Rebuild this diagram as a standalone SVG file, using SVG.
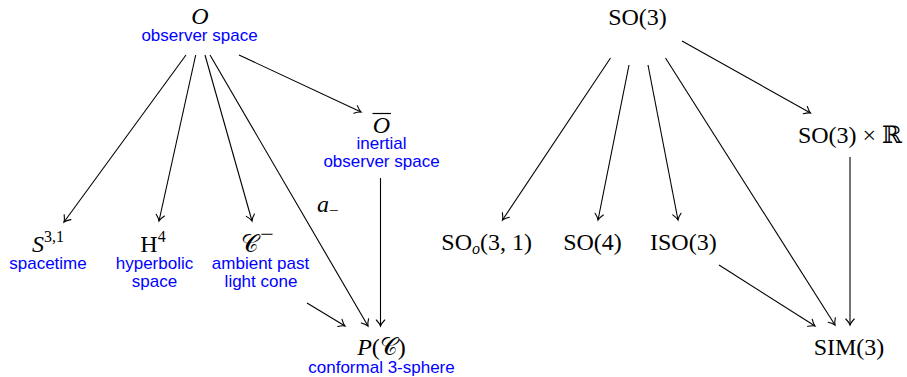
<svg xmlns="http://www.w3.org/2000/svg" width="907" height="377" viewBox="0 0 907 377">
<style>
.m{font-family:"Liberation Serif","DejaVu Serif",serif;font-size:24px;fill:#000;text-anchor:middle}
.i{font-style:italic}
.l{font-family:"Liberation Sans","DejaVu Sans",sans-serif;font-size:17px;fill:#0000ff;text-anchor:middle}
.e{fill:none;stroke:#000;stroke-width:1.1;marker-end:url(#ah)}
</style>
<defs>
<marker id="ah" markerUnits="userSpaceOnUse" orient="auto" refX="0" refY="0" markerWidth="12" markerHeight="12" overflow="visible">
<path d="M-6,-4.2 C-3.5,-1.8 -1.2,-0.4 0,0 C-1.2,0.4 -3.5,1.8 -6,4.2" fill="none" stroke="#000" stroke-width="1.1" stroke-linecap="round"/>
</marker>
</defs>
<g id="edges">
<path class="e" d="M186,55 L64,222"/>
<path class="e" d="M195.7,55 L159,221"/>
<path class="e" d="M205,55 L252,221"/>
<path class="e" d="M210,55 L368,326"/>
<path class="e" d="M239,55 L361,112"/>
<path class="e" d="M380.5,178 L380.5,326"/>
<path class="e" d="M307,303 L345,326"/>
<path class="e" d="M610.5,58 L502.5,220"/>
<path class="e" d="M629,65 L598,220"/>
<path class="e" d="M648,65 L678,220"/>
<path class="e" d="M665.5,58 L835,325"/>
<path class="e" d="M682,41 L810.5,113"/>
<path class="e" d="M719,265 L815,326"/>
<path class="e" d="M850,157 L850,325"/>
<text class="m i" x="317" y="212" style="text-anchor:start">a<tspan dy="4" font-size="17" font-style="normal">−</tspan></text>
</g>
<g id="O">
<text class="m i" x="200" y="24">O</text>
<text class="l" x="199.5" y="41">observer space</text>
</g>
<g id="Obar">
<text class="m i" x="381.5" y="133">O</text>
<line x1="372.5" y1="113.5" x2="391" y2="113.5" stroke="#000" stroke-width="1.2"/>
<text class="l" x="381.5" y="149">inertial</text>
<text class="l" x="381.5" y="167">observer space</text>
</g>
<g id="S31">
<text class="m" x="48" y="252"><tspan font-style="italic">S</tspan><tspan dy="-10" font-size="16">3,1</tspan></text>
<text class="l" x="48" y="268.5">spacetime</text>
</g>
<g id="H4">
<text class="m" x="153" y="252">H<tspan dy="-10" font-size="16">4</tspan></text>
<text class="l" x="154.5" y="268.5">hyperbolic</text>
<text class="l" x="154.5" y="287">space</text>
</g>
<g id="Cminus">
<text class="m" x="250" y="252">𝒞</text>
<text class="m" x="267" y="242" font-size="16">−</text>
<text class="l" x="260.5" y="268.5">ambient past</text>
<text class="l" x="261" y="287">light cone</text>
</g>
<g id="PC">
<text class="m" x="381.5" y="355"><tspan font-style="italic">P</tspan>(𝒞)</text>
<text class="l" x="381.5" y="373">conformal 3-sphere</text>
</g>
<g id="SO3">
<text class="m" x="637.5" y="25">SO(3)</text>
</g>
<g id="SO3R">
<text class="m" x="850" y="143">SO(3) × ℝ</text>
</g>
<g id="SOo31">
<text class="m" x="486.7" y="250">SO<tspan dy="4" font-size="16" font-style="italic">o</tspan><tspan dy="-4">(3, 1)</tspan></text>
</g>
<g id="SO4">
<text class="m" x="592.5" y="250">SO(4)</text>
</g>
<g id="ISO3">
<text class="m" x="683.3" y="250">ISO(3)</text>
</g>
<g id="SIM3">
<text class="m" x="849" y="355">SIM(3)</text>
</g>
</svg>
